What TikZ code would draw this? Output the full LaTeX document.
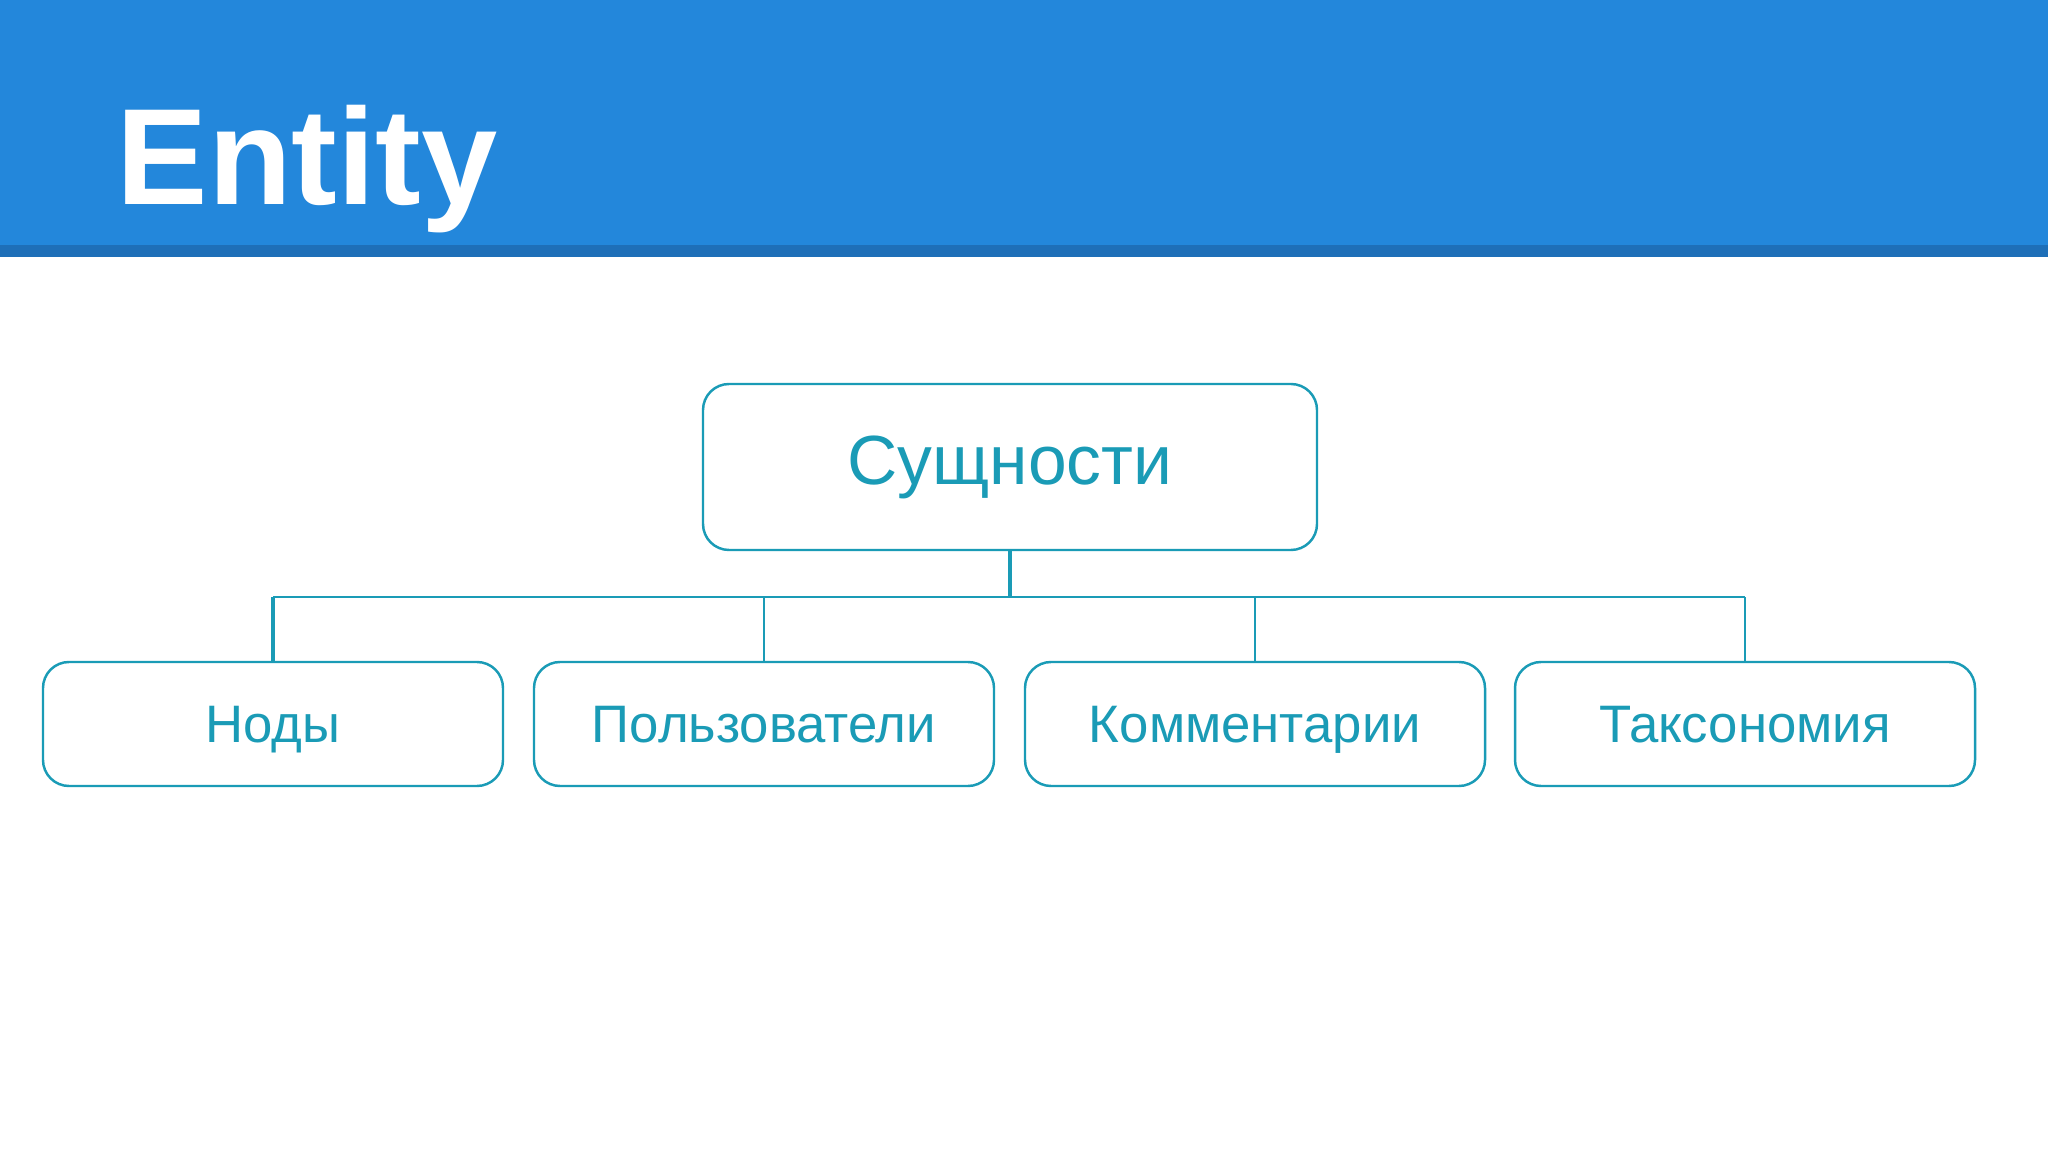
\documentclass[tikz,border=0pt]{standalone}
\usepackage{fontspec}
\setmainfont{Liberation Sans}
\usetikzlibrary{calc}
\definecolor{headblue}{RGB}{35,135,219}
\definecolor{headdark}{RGB}{30,111,184}
\definecolor{teal}{RGB}{26,155,182}
\tikzset{
  entbox/.style={draw=teal, line width=0.7pt, rounded corners=2.6mm, text=teal, inner sep=0pt},
  topbox/.style={entbox, minimum width=61.4mm, minimum height=16.6mm, text height=14.2pt, text depth=4pt, font=\fontsize{19.8}{24}\selectfont},
  subbox/.style={entbox, minimum width=46mm, minimum height=12.4mm, text height=10.8pt, text depth=0pt, font=\fontsize{15}{18}\selectfont},
  wire/.style={draw=teal, line width=0.7pt},
  stem/.style={draw=teal, line width=1.1pt}
}

\begin{document}
\begin{tikzpicture}[x=0.1mm,y=-0.1mm]
			%%%%% HEADER %%%%%
			\useasboundingbox (0,0) rectangle (2048,1152);
			\fill[white] (0,0) rectangle (2048,1152);
			\fill[headblue] (0,0) rectangle (2048,245);
			\fill[headdark] (0,245) rectangle (2048,257);
			\node[anchor=base west, inner sep=0pt, text=white, font=\fontsize{39}{44}\selectfont\bfseries] (title) at (116,205) {Entity};
			
			%%%%% BOXES %%%%%
			\node[topbox] (top) at (1010,467) {Сущности};
			
			\node[subbox] (nody) at (273,724) {Ноды};
			\node[subbox] (users) at (764,724) {Пользователи};
			\node[subbox] (comments) at (1255,724) {Комментарии};
			\node[subbox] (taxonomy) at (1745,724) {Таксономия};
			
			%%%%% CONNECTORS %%%%%
			\coordinate (bus) at (1010,597);
			\draw[stem] (top.south) -- (bus);
			\draw[wire] (nody.north |- bus) -- (taxonomy.north |- bus);
			\draw[stem] (nody.north) -- (nody.north |- bus);
			\draw[wire] (users.north) -- (users.north |- bus);
			\draw[wire] (comments.north) -- (comments.north |- bus);
			\draw[wire] (taxonomy.north) -- (taxonomy.north |- bus);
		\end{tikzpicture}
\end{document}
